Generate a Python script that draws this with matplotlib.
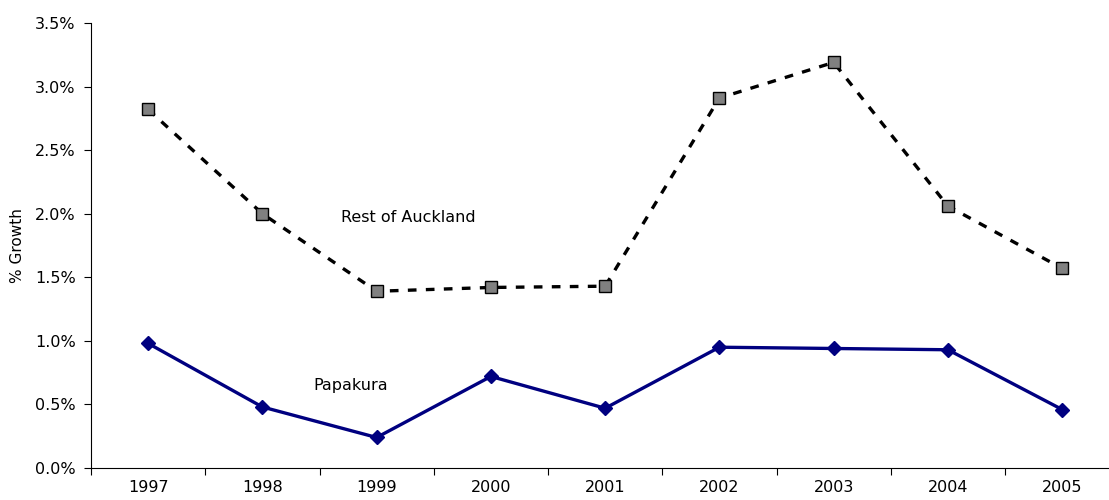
import matplotlib.pyplot as plt
from matplotlib.ticker import FuncFormatter, FixedLocator

years = ['1997', '1998', '1999', '2000', '2001', '2002', '2003', '2004', '2005']
rest_of_auckland = [2.82, 2.00, 1.39, 1.42, 1.43, 2.91, 3.19, 2.06, 1.57]
papakura = [0.98, 0.48, 0.24, 0.72, 0.47, 0.95, 0.94, 0.93, 0.46]

plt.rcParams['font.family'] = ['Verdana', 'DejaVu Sans']

fig = plt.figure(figsize=(11.09, 5.0), dpi=100)
ax = fig.add_axes([91 / 1109, 32 / 500, 1018 / 1109, 445 / 500])

x = list(range(len(years)))
ax.plot(x, rest_of_auckland, color='black', lw=2.4, linestyle=(0, (2.6, 2.8)),
        marker='s', markersize=9, markerfacecolor='#808080',
        markeredgecolor='black', markeredgewidth=1.0, zorder=3)
ax.plot(x, papakura, color='#000080', lw=2.4, marker='D', markersize=7,
        markerfacecolor='#000080', markeredgecolor='#000080', zorder=3)

ax.text(2.28, 1.97, 'Rest of Auckland', fontsize=11.5, ha='center', va='center')
ax.text(1.77, 0.65, 'Papakura', fontsize=11.5, ha='center', va='center')

ax.set_xlim(-0.5, 8.41)
ax.set_ylim(0, 3.5)
ax.set_xticks(x)
ax.set_xticklabels(years, fontsize=11.5)
ax.xaxis.set_minor_locator(FixedLocator([i + 0.5 for i in range(-1, 9)]))
ax.tick_params(axis='x', which='major', length=0, pad=9)
ax.tick_params(axis='x', which='minor', length=5, width=0.8, direction='out')
ax.set_yticks([i * 0.5 for i in range(8)])
ax.yaxis.set_major_formatter(FuncFormatter(lambda v, p: f'{v:.1f}%'))
ax.tick_params(axis='y', length=5, width=0.8, direction='out', labelsize=11.5, pad=6)
ax.set_ylabel('% Growth', fontsize=11, labelpad=7)

for side in ['top', 'right']:
    ax.spines[side].set_visible(False)
ax.spines['left'].set_linewidth(0.8)
ax.spines['bottom'].set_linewidth(0.8)

fig.savefig('out.png', dpi=100)
